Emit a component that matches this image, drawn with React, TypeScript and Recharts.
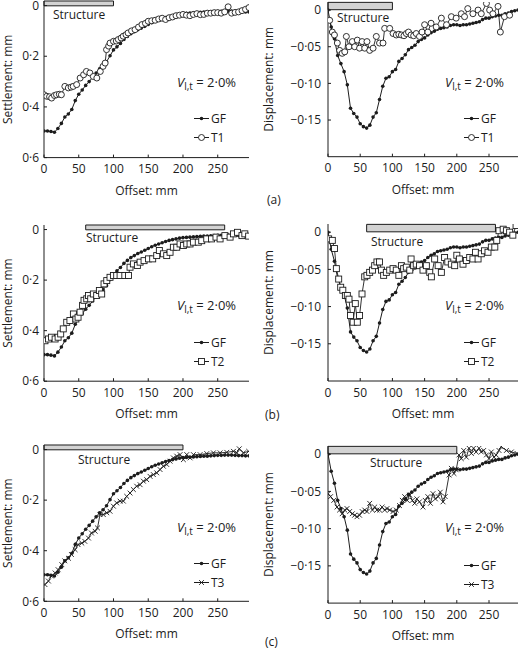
import { Label, Legend, Line, LineChart, ReferenceArea, XAxis, YAxis } from "recharts";

const FONT = '"Open Sans", "Noto Sans", sans-serif';
const INK = "#1c1c1c";

const offsetTicks = [0, 50, 100, 150, 200, 250];
const settlementTicks = [0, 0.2, 0.4, 0.6];
const displacementTicks = [0, -0.05, -0.1, -0.15];

// greenfield (GF) reference curves, read every 5 mm
const gfOffsets = [
  0, 5, 10, 15, 20, 25, 30, 35, 40, 45, 50, 55, 60, 65, 70, 75, 80, 85, 90, 95,
  100, 105, 110, 115, 120, 125, 130, 135, 140, 145, 150, 155, 160, 165, 170, 175, 180, 185, 190, 195,
  200, 205, 210, 215, 220, 225, 230, 235, 240, 245, 250, 255, 260, 265, 270, 275, 280, 285, 290, 295,
];
const gfSettlement = [
  0.495, 0.495, 0.497, 0.5, 0.485, 0.465, 0.44, 0.428, 0.41, 0.375,
  0.35, 0.333, 0.315, 0.3, 0.283, 0.266, 0.25, 0.238, 0.222, 0.198,
  0.175, 0.163, 0.15, 0.134, 0.122, 0.111, 0.103, 0.095, 0.089, 0.082,
  0.075, 0.068, 0.062, 0.057, 0.052, 0.047, 0.043, 0.04, 0.037, 0.034,
  0.032, 0.031, 0.03, 0.029, 0.028, 0.027, 0.026, 0.026, 0.025, 0.024,
  0.023, 0.023, 0.022, 0.022, 0.022, 0.023, 0.024, 0.024, 0.025, 0.025,
];
const gfDisplacement = [
  0, -0.023, -0.039, -0.062, -0.073, -0.084, -0.102, -0.134, -0.141, -0.146,
  -0.155, -0.159, -0.161, -0.157, -0.146, -0.14, -0.122, -0.104, -0.093, -0.091,
  -0.084, -0.081, -0.07, -0.066, -0.061, -0.054, -0.051, -0.048, -0.043, -0.04,
  -0.038, -0.034, -0.031, -0.029, -0.026, -0.025, -0.024, -0.023, -0.021, -0.02,
  -0.02, -0.021, -0.02, -0.02, -0.019, -0.018, -0.017, -0.016, -0.013, -0.011,
  -0.011, -0.009, -0.008, -0.007, -0.007, -0.005, -0.004, -0.002, -0.001, 0,
];

// [offset mm, value mm]
const t1Settlement: [number, number][] = [
  [0, 0.352], [4, 0.358], [8, 0.36], [11, 0.365], [15, 0.355], [18, 0.352], [22, 0.35], [25, 0.352],
  [30, 0.319], [35, 0.325], [39, 0.322], [42, 0.319], [47, 0.312], [52, 0.286], [57, 0.273], [61, 0.26],
  [66, 0.266], [71, 0.28], [76, 0.286], [81, 0.26], [85, 0.24], [88, 0.227], [90, 0.174], [93, 0.16],
  [95, 0.148], [100, 0.141], [104, 0.14], [107, 0.134], [111, 0.128], [114, 0.121], [118, 0.115],
  [121, 0.108], [126, 0.1], [131, 0.095], [136, 0.085], [141, 0.075], [146, 0.07], [150, 0.062],
  [155, 0.06], [160, 0.058], [165, 0.053], [170, 0.05], [175, 0.055], [180, 0.048], [185, 0.045],
  [190, 0.04], [195, 0.038], [200, 0.035], [205, 0.038], [210, 0.04], [215, 0.035], [220, 0.032],
  [225, 0.036], [230, 0.035], [235, 0.03], [240, 0.03], [245, 0.028], [250, 0.028], [255, 0.03],
  [260, 0.025], [265, 0.005], [270, 0.03], [275, 0.027], [280, 0.025], [285, 0.02], [290, 0.015], [295, 0.008],
];
const t1Displacement: [number, number][] = [
  [2.6, -0.014], [6.7, -0.03], [10, -0.034], [14.5, -0.045], [18, -0.055], [22, -0.059], [26, -0.057],
  [28.5, -0.036], [32.6, -0.05], [37.8, -0.043], [41.4, -0.05], [45.5, -0.041], [49, -0.052], [53, -0.043],
  [57, -0.052], [60.5, -0.043], [64.7, -0.055], [70, -0.052], [75, -0.036], [80, -0.045], [85.4, -0.045],
  [88, -0.025], [95.8, -0.025], [101, -0.032], [106, -0.034], [110, -0.033], [114, -0.034], [118, -0.035],
  [121.6, -0.032], [125, -0.03], [129, -0.034], [133, -0.035], [137, -0.032], [142, -0.036], [146, -0.03],
  [150, -0.02], [155, -0.03], [160, -0.018], [168, -0.023], [176, -0.011], [184, -0.02], [191.5, -0.009],
  [199, -0.011], [207, -0.005], [212, -0.009], [217, 0.002], [225, -0.005], [233, 0], [238, -0.005],
  [246, 0.009], [251, 0], [256, -0.005], [264, 0.005], [267.6, -0.03], [274, -0.009], [282, -0.007],
];
const t2Settlement: [number, number][] = [
  [1.4, 0.44], [6.4, 0.433], [10.7, 0.426], [16, 0.433], [20.3, 0.426], [24, 0.413], [27.7, 0.393],
  [32.7, 0.367], [37.3, 0.36], [42.3, 0.334], [45.9, 0.354], [49, 0.347], [51.9, 0.327], [55.5, 0.3],
  [57.6, 0.28], [61.5, 0.274], [64, 0.261], [67.2, 0.274], [71, 0.255], [75.8, 0.261], [79.7, 0.241],
  [83, 0.255], [86.4, 0.215], [90.3, 0.202], [95, 0.189], [99.9, 0.182], [104.6, 0.182], [109.5, 0.182],
  [116.3, 0.182], [121.6, 0.182], [123.8, 0.149], [128.6, 0.136], [134.4, 0.142], [138.3, 0.129],
  [144, 0.123], [150.4, 0.116], [156.4, 0.116], [162.2, 0.103], [166, 0.083], [171.8, 0.096],
  [176.6, 0.103], [181.4, 0.09], [186.2, 0.07], [191, 0.07], [195.8, 0.057], [200.6, 0.063],
  [205.4, 0.057], [210.2, 0.057], [215, 0.05], [222, 0.05], [227, 0.044], [234.2, 0.037], [241, 0.037],
  [247.5, 0.03], [253.4, 0.037], [260.3, 0.024], [267.8, 0.03], [272.6, 0.017], [278.5, 0.011],
  [284.9, 0.024], [289, 0.017], [294.5, 0.026],
];
const t2Displacement: [number, number][] = [
  [1, -0.009], [6.7, -0.011], [10, -0.022], [13, -0.049], [16.6, -0.063], [19.7, -0.074], [23, -0.078],
  [27, -0.085], [30, -0.085], [32.6, -0.09], [35, -0.112], [39, -0.121], [42.4, -0.096], [45.5, -0.121],
  [49, -0.112], [52.8, -0.083], [57, -0.06], [60.5, -0.058], [64.7, -0.054], [69, -0.051], [72.5, -0.045],
  [76, -0.04], [80, -0.04], [83, -0.051], [86.4, -0.058], [90.6, -0.054], [95.8, -0.051], [101, -0.049],
  [106, -0.051], [110, -0.058], [114, -0.045], [117.5, -0.049], [121.6, -0.047], [127, -0.051],
  [129, -0.036], [133, -0.045], [137, -0.043], [142, -0.045], [147.5, -0.051], [152.7, -0.045],
  [158, -0.054], [160.5, -0.06], [165.6, -0.036], [171, -0.045], [176, -0.054], [181, -0.034],
  [186, -0.04], [191.5, -0.043], [196.7, -0.045], [200, -0.031], [204, -0.036], [209.6, -0.043],
  [214.8, -0.038], [220, -0.034], [225, -0.036], [229, -0.027], [233, -0.036], [238, -0.029],
  [243, -0.025], [248.4, -0.027], [253.6, -0.02], [259, -0.02], [262, -0.011], [265.5, 0.002],
  [272, 0.004], [277, 0.002], [282, 0], [287, -0.004], [292, 0.009],
];
const t3Settlement: [number, number][] = [
  [1.4, 0.534], [6.4, 0.52], [10.7, 0.5], [16, 0.488], [20.3, 0.475], [25.6, 0.455], [29.9, 0.44],
  [35.2, 0.43], [39.5, 0.415], [44.8, 0.396], [49, 0.376], [54.4, 0.37], [58.7, 0.363], [64, 0.35],
  [68.3, 0.33], [73.6, 0.323], [77, 0.31], [80.6, 0.257], [85.3, 0.257], [90.3, 0.25], [95, 0.244],
  [99.9, 0.224], [104.6, 0.211], [109.5, 0.204], [114.2, 0.204], [119, 0.185], [123.8, 0.172],
  [128.6, 0.158], [133.4, 0.145], [138.3, 0.139], [143, 0.125], [147.8, 0.119], [152.6, 0.106],
  [157.4, 0.099], [162.2, 0.092], [167, 0.079], [171.8, 0.066], [176.6, 0.059], [181.4, 0.046],
  [186.2, 0.033], [191, 0.026], [195.8, 0.02], [200.6, 0.04], [205.4, 0.02], [210.2, 0.033],
  [215, 0.02], [224.6, 0.02], [234.2, 0.016], [243.8, 0.013], [253.4, 0.013], [263, 0.011],
  [272.6, 0.007], [277.4, 0.013], [281, -0.003], [287, 0.013], [294.5, 0.007],
];
const t3Displacement: [number, number][] = [
  [0, -0.053], [4, -0.057], [9, -0.062], [14, -0.071], [18, -0.075], [22, -0.08], [26, -0.075],
  [29.5, -0.073], [33.6, -0.077], [37.8, -0.08], [41.4, -0.082], [45, -0.084], [49, -0.082], [53, -0.077],
  [57, -0.075], [60.5, -0.077], [64.7, -0.066], [69, -0.075], [72.5, -0.071], [76, -0.075], [80, -0.075],
  [84, -0.071], [88, -0.075], [91.6, -0.073], [95.8, -0.075], [101, -0.077], [106, -0.075], [111, -0.069],
  [115.4, -0.062], [119, -0.057], [123, -0.062], [127, -0.055], [131, -0.062], [134.6, -0.066],
  [138, -0.06], [142, -0.064], [147.5, -0.071], [151, -0.062], [155, -0.057], [159, -0.066],
  [163, -0.053], [166.7, -0.06], [171, -0.057], [174.4, -0.051], [178.6, -0.064], [182, -0.057],
  [188, -0.028], [191.5, -0.019], [195.6, -0.026], [199, -0.021], [203.4, -0.001], [207, -0.006],
  [210.7, 0.005], [214.8, -0.004], [219, 0.008], [222.6, 0.001], [226, 0.008], [230, 0.003],
  [234.5, 0.008], [238, 0.003], [241.7, 0.005], [246, -0.001], [250, -0.006], [253.6, 0.003],
  [257.8, -0.004], [261, -0.001], [265.5, 0.005], [269, 0.01], [277, 0.005], [284.7, 0.003], [293.5, 0.001],
];

const gfRows = (vals: number[]) => gfOffsets.map((x, i) => ({ x, y: vals[i] }));
const toRows = (pairs: [number, number][]) => pairs.map(([x, y]) => ({ x, y }));

const fmtSettlement = (v: number) => (v === 0 ? "0" : v.toFixed(1).replace(".", "·"));
const fmtDisplacement = (v: number) => (v === 0 ? "0" : "−" + Math.abs(v).toFixed(2).replace(".", "·"));

type MarkerKind = "dot" | "circle" | "square" | "cross";

function Marker({ kind, cx, cy }: { kind: MarkerKind; cx: number; cy: number }) {
  if (cx == null || cy == null) return null;
  if (kind === "dot") return <circle cx={cx} cy={cy} r={1.8} fill={INK} />;
  if (kind === "circle")
    return <circle cx={cx} cy={cy} r={3} fill="#fff" stroke={INK} strokeWidth={0.9} />;
  if (kind === "square")
    return <rect x={cx - 3} y={cy - 3} width={6} height={6} fill="#fff" stroke={INK} strokeWidth={0.9} />;
  const d = 2.4;
  return (
    <path
      d={`M${cx - d},${cy - d}L${cx + d},${cy + d}M${cx - d},${cy + d}L${cx + d},${cy - d}`}
      stroke={INK}
      strokeWidth={0.9}
      fill="none"
    />
  );
}

function Key({ testName, marker }: { testName: string; marker: MarkerKind }) {
  const rows: [string, MarkerKind][] = [
    ["GF", "dot"],
    [testName, marker],
  ];
  return (
    <div style={{ fontFamily: FONT, fontSize: 12, color: INK }}>
      {rows.map(([label, kind]) => (
        <div key={label} style={{ display: "flex", alignItems: "center", height: 19 }}>
          <svg width={16} height={19}>
            <line x1={0} y1={9.5} x2={15} y2={9.5} stroke={INK} strokeWidth={1} />
            <Marker kind={kind} cx={7.5} cy={9.5} />
          </svg>
          <span style={{ marginLeft: 1 }}>{label}</span>
        </div>
      ))}
    </div>
  );
}

type PanelProps = {
  kind: "settlement" | "displacement";
  plotTop: number;
  plotBottom: number;
  test: { x: number; y: number }[];
  testName: string;
  marker: MarkerKind;
  bar: [number, number];
  structureAt: [number, number];
  keyY: number;
  vY: number;
};

function Panel({ kind, plotTop, plotBottom, test, testName, marker, bar, structureAt, keyY, vY }: PanelProps) {
  const isS = kind === "settlement";
  const left = isS ? 0 : 260;
  const yWidth = isS ? 44 : 68;
  const mTop = 10;
  const xHeight = 40;
  const height = mTop + (plotBottom - plotTop) + xHeight;
  const wrapTop = plotTop - mTop;
  const text = { fill: INK, fontSize: 12, fontFamily: FONT };
  const gf = gfRows(isS ? gfSettlement : gfDisplacement);
  const keyX = isS ? 194 : 464;
  const vX = isS ? 177 : 445;

  return (
    <div style={{ position: "absolute", left, top: wrapTop, width: 260, height }}>
      <LineChart width={260} height={height} margin={{ top: mTop, right: isS ? 11 : 2, bottom: 0, left: 0 }}>
        <XAxis
          type="number"
          dataKey="x"
          domain={[0, 295]}
          ticks={offsetTicks}
          allowDataOverflow
          height={xHeight}
          stroke={INK}
          tickSize={-3}
          tickMargin={10}
          tick={text}
        >
          <Label value="Offset: mm" position="insideBottom" offset={3} style={text} />
        </XAxis>
        <YAxis
          type="number"
          domain={isS ? [-0.018, 0.6] : [-0.2, 0.011]}
          reversed={isS}
          ticks={isS ? settlementTicks : displacementTicks}
          tickFormatter={isS ? fmtSettlement : fmtDisplacement}
          allowDataOverflow
          width={yWidth}
          stroke={INK}
          tickSize={-3}
          tickMargin={isS ? 8 : 10}
          tick={text}
        >
          <Label
            value={isS ? "Settlement: mm" : "Displacement: mm"}
            angle={-90}
            position="insideLeft"
            offset={isS ? 8 : 9}
            style={{ ...text, textAnchor: "middle" }}
          />
        </YAxis>
        <ReferenceArea
          x1={bar[0]}
          x2={bar[1]}
          y1={isS ? -0.018 : 0.0005}
          y2={isS ? 0.001 : 0.0105}
          fill="#d3d3d3"
          fillOpacity={1}
          stroke={INK}
          strokeWidth={1}
          ifOverflow="visible"
        />
        <Line
          data={gf}
          dataKey="y"
          type="linear"
          stroke={INK}
          strokeWidth={1}
          dot={(p: any) => <Marker key={`g${p.index}`} kind="dot" cx={p.cx} cy={p.cy} />}
          isAnimationActive={false}
        />
        <Line
          data={test}
          dataKey="y"
          type="linear"
          stroke={INK}
          strokeWidth={0.9}
          dot={(p: any) => <Marker key={`t${p.index}`} kind={marker} cx={p.cx} cy={p.cy} />}
          isAnimationActive={false}
        />
        <Legend
          layout="horizontal"
          verticalAlign="middle"
          align="center"
          wrapperStyle={{ left: keyX - left, top: keyY - 9.5 - wrapTop, width: 50, height: 38 }}
          content={() => <Key testName={testName} marker={marker} />}
        />
      </LineChart>
      <div
        style={{
          position: "absolute",
          left: structureAt[0] - left,
          top: structureAt[1] - 8 - wrapTop,
          fontFamily: FONT,
          fontSize: 12,
          lineHeight: "16px",
          color: INK,
        }}
      >
        Structure
      </div>
      <div
        style={{
          position: "absolute",
          left: vX - left,
          top: vY - 9 - wrapTop,
          fontFamily: FONT,
          fontSize: 13,
          lineHeight: "18px",
          color: INK,
          whiteSpace: "nowrap",
        }}
      >
        <i>V</i>
        <span style={{ fontSize: 10, position: "relative", top: 3 }}>l,t</span> = 2·0%
      </div>
    </div>
  );
}

function Tag({ x, y, children }: { x: number; y: number; children: string }) {
  return (
    <div
      style={{
        position: "absolute",
        left: x,
        top: y - 8,
        fontFamily: FONT,
        fontSize: 12,
        lineHeight: "16px",
        color: INK,
      }}
    >
      {children}
    </div>
  );
}

export default function App() {
  return (
    <div style={{ position: "relative", width: 520, height: 649, background: "#fff", overflow: "hidden" }}>
      <style>{"body{margin:0}"}</style>
      <Panel kind="settlement" plotTop={1.4} plotBottom={158} test={toRows(t1Settlement)} testName="T1"
        marker="circle" bar={[0, 100]} structureAt={[53, 15]} keyY={118} vY={82} />
      <Panel kind="displacement" plotTop={1.9} plotBottom={156.6} test={toRows(t1Displacement)} testName="T1"
        marker="circle" bar={[0, 100]} structureAt={[337, 18]} keyY={118} vY={82} />
      <Tag x={267} y={200}>(a)</Tag>

      <Panel kind="settlement" plotTop={224.5} plotBottom={380.7} test={toRows(t2Settlement)} testName="T2"
        marker="square" bar={[60, 260]} structureAt={[86, 238]} keyY={342} vY={305} />
      <Panel kind="displacement" plotTop={223.5} plotBottom={380.5} test={toRows(t2Displacement)} testName="T2"
        marker="square" bar={[60, 260]} structureAt={[371, 242]} keyY={342} vY={305} />
      <Tag x={265} y={415}>(b)</Tag>

      <Panel kind="settlement" plotTop={445.4} plotBottom={601.7} test={toRows(t3Settlement)} testName="T3"
        marker="cross" bar={[0, 200]} structureAt={[78, 460]} keyY={564} vY={527} />
      <Panel kind="displacement" plotTop={445.8} plotBottom={602.9} test={toRows(t3Displacement)} testName="T3"
        marker="cross" bar={[0, 200]} structureAt={[370, 463]} keyY={566} vY={527} />
      <Tag x={265} y={642}>(c)</Tag>
    </div>
  );
}
